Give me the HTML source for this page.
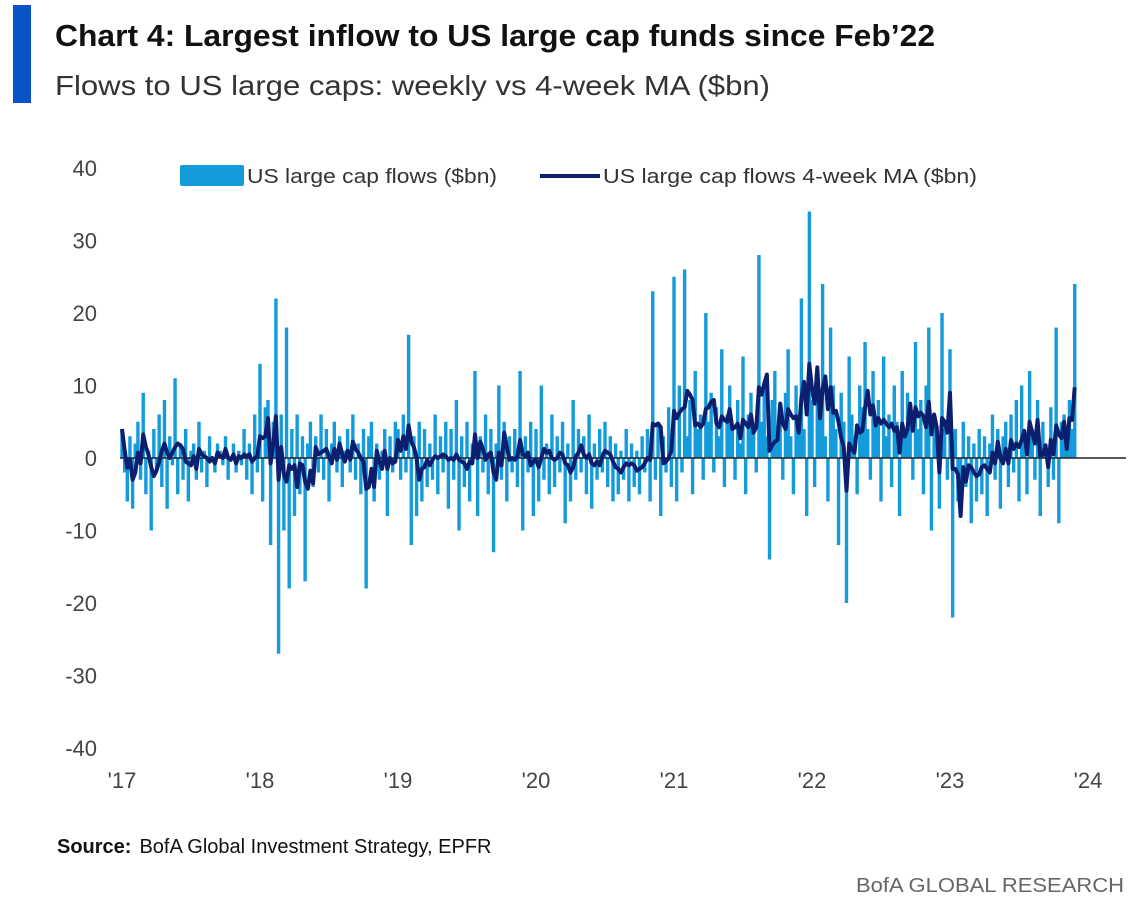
<!DOCTYPE html>
<html><head><meta charset="utf-8"><style>
body{margin:0;background:#fff;}
svg{display:block;font-family:"Liberation Sans",sans-serif;}
</style></head><body>
<svg id="chart" width="1144" height="908">
<rect x="13" y="5" width="18" height="98" fill="#0a52c8"/>
<text x="55" y="46" font-size="31" font-weight="bold" fill="#111" textLength="880" lengthAdjust="spacingAndGlyphs">Chart 4: Largest inflow to US large cap funds since Feb’22</text>
<text x="55" y="95" font-size="28" fill="#333" textLength="715" lengthAdjust="spacingAndGlyphs">Flows to US large caps: weekly vs 4-week MA ($bn)</text>
<g id="yaxis"></g>
<g id="xaxis"></g>
<g id="bars"></g>
<line x1="120" y1="458" x2="1126" y2="458" stroke="#222" stroke-width="1.5"/>
<path id="ma" fill="none" stroke="#0b1f6e" stroke-width="4" stroke-linejoin="round"/>
<g>
<rect x="180" y="165" width="64" height="21" rx="2" fill="#139bdb"/>
<text x="247" y="183" font-size="20" fill="#333" textLength="250" lengthAdjust="spacingAndGlyphs">US large cap flows ($bn)</text>
<line x1="540" y1="176" x2="600" y2="176" stroke="#0b1f6e" stroke-width="4"/>
<text x="603" y="183" font-size="20" fill="#333" textLength="374" lengthAdjust="spacingAndGlyphs">US large cap flows 4-week MA ($bn)</text>
</g>
<text x="57" y="853" font-size="20" fill="#111"><tspan font-weight="bold">Source:</tspan><tspan dx="8">BofA Global Investment Strategy, EPFR</tspan></text>
<text x="1124" y="892" font-size="20" fill="#666" text-anchor="end" textLength="268" lengthAdjust="spacingAndGlyphs">BofA GLOBAL RESEARCH</text>
</svg>
<script>
const yTicks=[40,30,20,10,0,-10,-20,-30,-40];
const xLabels=["'17","'18","'19","'20","'21","'22","'23","'24"];
const w2017=[4,-2,-6,3,-7,2,5,-3,9,-5,1,-10,4,-2,6,-4,8,-7,3,-1,11,-5,2,-3,4,-6,1,2,-3,5,-2,1,-4,3,0,-2,2,1,-1,3,-3,0,2,-2,1,-1,4,-3,2,-5,6,-2];
const w2018=[13,-6,7,8,-12,5,22,-27,6,-10,18,-18,4,-8,6,-5,3,-17,2,5,-4,3,-2,6,-3,4,-6,2,5,-2,3,-4,1,4,-2,6,-3,2,-5,4,-18,3,5,-6,2,-3,1,4,-8,3,-2,5];
const w2019=[4,-3,6,-2,17,-12,3,-8,5,-6,4,-4,2,-3,6,-5,3,-2,5,-7,4,-3,8,-10,3,-4,5,-6,2,12,-8,3,-2,6,-5,4,-13,2,10,-3,5,-6,3,-2,4,-4,12,-10,3,-2,5,-8];
const w2020=[4,-6,10,-3,2,-5,6,-4,3,-2,5,-9,2,-6,8,-3,4,-2,3,-5,6,-7,2,-3,4,-2,5,-4,3,-6,2,-5,1,-3,4,-6,2,-4,1,-5,3,-2,4,-6,23,-3,5,-8,3,-2,7,-4];
const w2021=[25,-6,10,-2,26,3,8,-5,12,4,6,-3,20,5,9,-2,7,3,15,-4,6,10,4,-3,8,2,14,-5,6,9,4,-2,28,5,10,3,-14,8,12,4,6,-3,9,15,3,-5,10,6,22,4,-8,34];
const w2022=[8,-4,12,6,24,3,-6,18,10,4,-12,9,5,-20,14,6,3,-5,10,7,16,4,-3,12,5,8,-6,14,3,6,-4,10,5,-8,12,3,9,6,-3,16,4,8,-5,10,18,-10,6,3,-7,20,4,-3];
const w2023=[15,-22,4,-6,-8,5,-4,3,-9,2,-6,4,-5,3,-8,2,6,-3,4,-7,3,5,-4,6,-2,8,-6,10,3,-5,12,4,-3,8,-8,5,2,-4,7,-3,18,-9,5,6,3,8,4,24];
const weekly=[].concat(w2017,w2018,w2019,w2020,w2021,w2022,w2023);
const NS='http://www.w3.org/2000/svg';
const X0=122,YEARW=138,Y0=458,UNIT=7.25;
function xs(i){return X0+i/52*YEARW;}
function ys(v){return Y0-v*UNIT;}
const ya=document.getElementById('yaxis');
yTicks.forEach(t=>{
const e=document.createElementNS(NS,'text');
e.setAttribute('x',97);e.setAttribute('y',ys(t)+8);e.setAttribute('text-anchor','end');
e.setAttribute('font-size','22');e.setAttribute('fill','#444');e.textContent=t;


ya.appendChild(e);});
const xa=document.getElementById('xaxis');
xLabels.forEach((l,k)=>{
const e=document.createElementNS(NS,'text');
e.setAttribute('x',X0+k*YEARW);e.setAttribute('y',788);e.setAttribute('text-anchor','middle');
e.setAttribute('font-size','22');e.setAttribute('fill','#444');e.textContent=l;


xa.appendChild(e);});
const bg=document.getElementById('bars');
weekly.forEach((v,i)=>{
const r=document.createElementNS(NS,'rect');
const y1=ys(Math.max(v,0)),y2=ys(Math.min(v,0));
r.setAttribute('x',xs(i)-1.7);r.setAttribute('width',3.4);
r.setAttribute('y',y1);r.setAttribute('height',Math.max(y2-y1,0.5));
r.setAttribute('fill','#139bdb');


bg.appendChild(r);});
let d='';
weekly.forEach((v,i)=>{
const s=weekly.slice(Math.max(0,i-3),i+1);
const m=s.reduce((a,b)=>a+b,0)/s.length;
d+=(i?'L':'M')+xs(i).toFixed(1)+','+ys(m).toFixed(1);});
document.getElementById('ma').setAttribute('d',d);
</script>
</body></html>
